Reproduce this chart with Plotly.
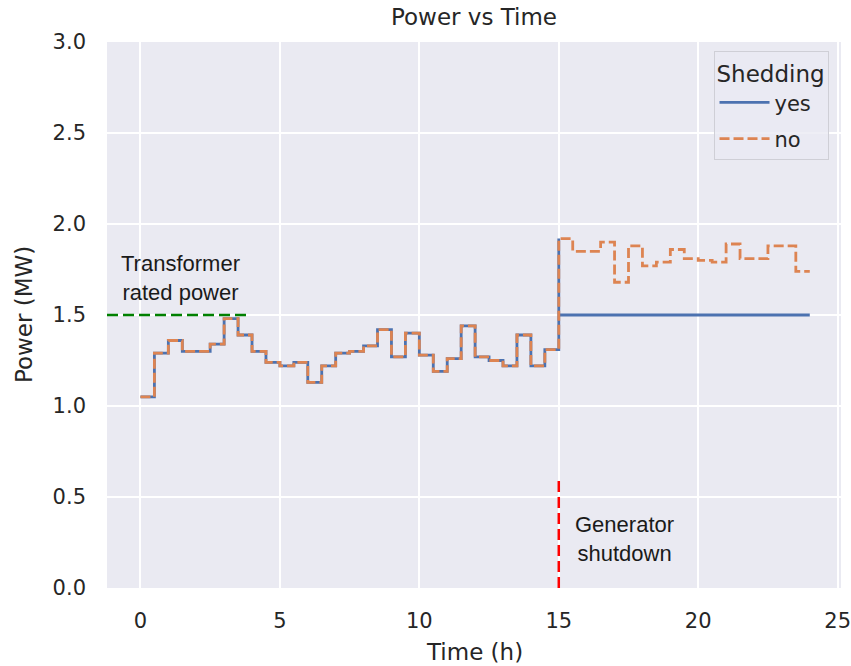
import plotly.graph_objects as go

# ---- data ----
hours_base = [0, 0.5, 1, 1.5, 2, 2.5, 3, 3.5, 4, 4.5, 5, 5.5, 6, 6.5, 7, 7.5,
              8, 8.5, 9, 9.5, 10, 10.5, 11, 11.5, 12, 12.5, 13, 13.5, 14, 14.5]
power_base = [1.05, 1.29, 1.36, 1.30, 1.30, 1.34, 1.48, 1.39, 1.30, 1.24,
              1.22, 1.24, 1.13, 1.22, 1.29, 1.30, 1.33, 1.42, 1.27, 1.40,
              1.28, 1.19, 1.26, 1.44, 1.27, 1.25, 1.22, 1.39, 1.22, 1.31]

hours_after = [15, 15.5, 16, 16.5, 17, 17.5, 18, 18.5, 19, 19.5, 20, 20.5,
               21, 21.5, 22, 22.5, 23, 23.5, 24]
power_no_after = [1.92, 1.85, 1.85, 1.90, 1.68, 1.88, 1.77, 1.79, 1.86, 1.81,
                  1.80, 1.79, 1.89, 1.81, 1.81, 1.88, 1.88, 1.74, 1.74]

hours_yes_after = [15, 15, 24]
power_yes_after = [1.92, 1.50, 1.50]

rated_power = 1.5
rated_line_x = [-1.2, 3.9]
shutdown_hour = 15
shutdown_line_y = [0, 0.6]

x_ticks = [0, 5, 10, 15, 20, 25]
y_ticks = [0.0, 0.5, 1.0, 1.5, 2.0, 2.5, 3.0]

BLUE = "#4C72B0"
ORANGE = "#DD8452"
TXT = "#262626"
FONT = "DejaVu Sans"

fig = go.Figure()

fig.add_trace(go.Scatter(
    x=hours_base + hours_yes_after, y=power_base + power_yes_after,
    mode="lines", line=dict(color=BLUE, width=2.8, shape="hv"), name="yes",
    legendgroup="yes"))
fig.add_trace(go.Scatter(
    x=hours_base + hours_after, y=power_base + power_no_after,
    mode="lines", line=dict(color=ORANGE, width=2.8, shape="hv", dash="10px,4px"),
    name="no", legendgroup="no"))

fig.add_trace(go.Scatter(
    x=rated_line_x, y=[rated_power, rated_power], mode="lines",
    line=dict(color="#008000", width=2.5, dash="11px,5px"), showlegend=False,
    hoverinfo="skip"))
fig.add_trace(go.Scatter(
    x=[shutdown_hour, shutdown_hour], y=shutdown_line_y, mode="lines",
    line=dict(color="#FF0000", width=2.5, dash="11px,5px"), showlegend=False,
    hoverinfo="skip"))

fig.add_annotation(x=1.42, y=1.706, xref="x", yref="y", text="Transformer<br>rated power",
                   showarrow=False, align="center", xanchor="center", yanchor="middle",
                   font=dict(family="Liberation Sans", size=22, color="#1a1a1a"))
fig.add_annotation(x=17.37, y=0.27, xref="x", yref="y", text="Generator<br>shutdown",
                   showarrow=False, align="center", xanchor="center", yanchor="middle",
                   font=dict(family="Liberation Sans", size=22, color="#1a1a1a"))

# axis titles
fig.add_annotation(x=0.5, y=-0.117, xref="paper", yref="paper", text="Time (h)",
                   showarrow=False, xanchor="center", yanchor="middle",
                   font=dict(family=FONT, size=23, color=TXT))
fig.add_annotation(x=-0.113, y=0.5, xref="paper", yref="paper", text="Power (MW)",
                   showarrow=False, xanchor="center", yanchor="middle", textangle=-90,
                   font=dict(family=FONT, size=23, color=TXT))

fig.update_layout(
    width=851, height=666,
    margin=dict(l=107, r=10, t=42, b=78, autoexpand=False),
    paper_bgcolor="white", plot_bgcolor="#EAEAF2",
    title=dict(text="Power vs Time", x=0.5, xref="paper", y=1 - 17.3 / 666,
               yref="container", xanchor="center", yanchor="middle",
               font=dict(family=FONT, size=23, color=TXT)),
    legend=dict(x=0.983, y=0.983, xanchor="right", yanchor="top",
                bgcolor="rgba(234,234,242,0.8)", bordercolor="#CFCFD6", borderwidth=1,
                title=dict(text="Shedding", font=dict(family=FONT, size=23, color=TXT)),
                font=dict(family=FONT, size=21, color=TXT), itemwidth=50,
                tracegroupgap=6),
    showlegend=True,
)
fig.update_xaxes(range=[-1.2, 25.12], tickvals=x_ticks, showgrid=True, gridcolor="white",
                 gridwidth=1.5, zeroline=False, showline=False, ticks="",
                 ticklabelstandoff=18, ticklabeloverflow="allow", automargin=False,
                 tickfont=dict(family=FONT, size=21, color=TXT))
fig.update_yaxes(range=[0, 3], tickvals=y_ticks, tickformat=".1f", showgrid=True,
                 gridcolor="white", gridwidth=1.5, zeroline=False, showline=False,
                 ticks="", ticklabelstandoff=20, automargin=False,
                 tickfont=dict(family=FONT, size=21, color=TXT))

fig.write_html("out.html", config={"displayModeBar": False},
               post_script="document.body.style.margin='0';document.body.style.overflow='hidden';")
